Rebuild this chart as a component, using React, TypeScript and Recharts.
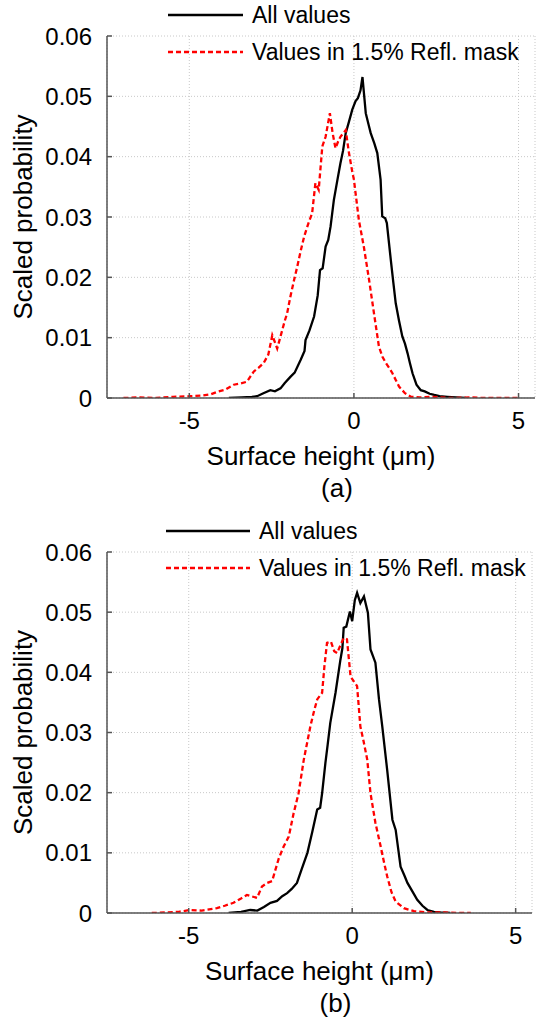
import { LineChart, Line, XAxis, YAxis, CartesianGrid, Label } from "recharts";

// shared axes
const xTicks = [-5, 0, 5];
const yTicks = [0, 0.01, 0.02, 0.03, 0.04, 0.05, 0.06];
const xLabel = "Surface height (\u03bcm)";
const yLabel = "Scaled probability";
const seriesNames = ["All values", "Values in 1.5% Refl. mask"];

// (a) all values
const aAllHeight = [-3.8, -3.4, -3.1, -2.94, -2.75, -2.54, -2.4, -2.23, -2.1, -1.93, -1.8, -1.62, -1.5, -1.47, -1.35, -1.21, -1.1, -1.03, -0.95, -0.86, -0.78, -0.71, -0.61, -0.5, -0.41, -0.33, -0.25, -0.15, -0.05, 0.05, 0.12, 0.2, 0.26, 0.36, 0.45, 0.51, 0.62, 0.71, 0.81, 0.86, 0.95, 1.0, 1.12, 1.2, 1.27, 1.37, 1.47, 1.55, 1.63, 1.7, 1.78, 1.9, 2.03, 2.15, 2.3, 2.44, 2.6, 2.84, 3.1, 3.4];
const aAllProb = [0, 0.0001, 0.0002, 0.0003, 0.0008, 0.0013, 0.0011, 0.0016, 0.0025, 0.0035, 0.0042, 0.0063, 0.0078, 0.0096, 0.0112, 0.0135, 0.017, 0.0212, 0.0215, 0.0251, 0.0262, 0.0284, 0.0328, 0.0362, 0.0389, 0.041, 0.0439, 0.0458, 0.0478, 0.0492, 0.0497, 0.051, 0.0532, 0.0472, 0.0452, 0.0439, 0.0422, 0.0406, 0.0362, 0.0301, 0.0298, 0.029, 0.0229, 0.019, 0.0157, 0.0128, 0.0102, 0.009, 0.0074, 0.0058, 0.0041, 0.0022, 0.0013, 0.0011, 0.0007, 0.0005, 0.0003, 0.0002, 0.0001, 0];

// (a) values in mask
const aMaskHeight = [-7.0, -6.5, -6.0, -5.5, -4.97, -4.6, -4.35, -4.16, -3.9, -3.65, -3.45, -3.25, -3.04, -2.9, -2.74, -2.6, -2.48, -2.33, -2.23, -2.1, -2.03, -1.93, -1.82, -1.72, -1.62, -1.51, -1.38, -1.27, -1.17, -1.07, -0.96, -0.86, -0.73, -0.65, -0.56, -0.48, -0.41, -0.25, -0.15, -0.05, 0.0, 0.15, 0.3, 0.46, 0.61, 0.76, 0.87, 0.97, 1.07, 1.17, 1.27, 1.37, 1.55, 1.73, 2.0, 2.3, 2.6, 3.0, 3.5, 4.0, 4.5, 5.0];
const aMaskProb = [0, 0.0001, 0, 0.0002, 0.0003, 0.0004, 0.0006, 0.001, 0.0014, 0.0022, 0.0024, 0.0027, 0.0044, 0.005, 0.0058, 0.0072, 0.0104, 0.0082, 0.0102, 0.0128, 0.014, 0.0168, 0.0195, 0.0218, 0.0243, 0.0268, 0.029, 0.0306, 0.0356, 0.0345, 0.0417, 0.0433, 0.0472, 0.044, 0.0414, 0.0425, 0.0433, 0.0444, 0.0406, 0.0375, 0.0362, 0.0295, 0.0251, 0.0196, 0.014, 0.0085, 0.0068, 0.0058, 0.005, 0.0041, 0.003, 0.0019, 0.0008, 0.0002, 0.0001, 0.0002, 0.0001, 0, 0.0001, 0, 0, 0];

// (b) all values
const bAllHeight = [-3.78, -3.4, -3.12, -2.9, -2.7, -2.5, -2.3, -2.14, -1.99, -1.85, -1.69, -1.55, -1.37, -1.22, -1.07, -0.98, -0.92, -0.82, -0.75, -0.67, -0.51, -0.36, -0.3, -0.26, -0.18, -0.07, 0.0, 0.08, 0.15, 0.25, 0.36, 0.48, 0.56, 0.65, 0.71, 0.82, 0.92, 1.07, 1.23, 1.33, 1.48, 1.6, 1.69, 1.85, 1.99, 2.15, 2.3, 2.5, 2.7, 3.0];
const bAllProb = [0, 0.0002, 0.0005, 0.0004, 0.001, 0.0017, 0.002, 0.0028, 0.0033, 0.004, 0.005, 0.0072, 0.01, 0.0135, 0.0172, 0.0175, 0.0199, 0.0249, 0.028, 0.0316, 0.0366, 0.0421, 0.044, 0.0474, 0.0476, 0.0501, 0.0485, 0.052, 0.0532, 0.0515, 0.0526, 0.0499, 0.0438, 0.0425, 0.0416, 0.0355, 0.031, 0.0238, 0.0155, 0.0138, 0.0077, 0.0062, 0.005, 0.0035, 0.0022, 0.0012, 0.0005, 0.0002, 0.0001, 0];

// (b) values in mask
const bMaskHeight = [-6.13, -5.7, -5.3, -4.96, -4.6, -4.14, -3.9, -3.63, -3.4, -3.22, -2.91, -2.76, -2.6, -2.45, -2.25, -2.1, -1.94, -1.79, -1.64, -1.48, -1.28, -1.17, -1.07, -0.92, -0.85, -0.77, -0.65, -0.55, -0.46, -0.36, -0.26, -0.16, -0.05, 0.05, 0.15, 0.25, 0.35, 0.46, 0.56, 0.71, 0.87, 0.97, 1.07, 1.2, 1.33, 1.58, 1.89, 2.3, 2.8, 3.2, 3.63];
const bMaskProb = [0, 0.0001, 0.0002, 0.0005, 0.0004, 0.0008, 0.0012, 0.0017, 0.0024, 0.003, 0.0025, 0.0044, 0.005, 0.0053, 0.009, 0.011, 0.0127, 0.0166, 0.0199, 0.0255, 0.031, 0.0335, 0.0355, 0.0366, 0.041, 0.0449, 0.0451, 0.0435, 0.0432, 0.0445, 0.0457, 0.0455, 0.0393, 0.0385, 0.0377, 0.031, 0.0285, 0.0255, 0.0199, 0.015, 0.0111, 0.0085, 0.0061, 0.0035, 0.0019, 0.0008, 0.0003, 0.0001, 0.0001, 0, 0];

const toPoints = (xs: number[], ys: number[]) => xs.map((x, i) => ({ x, y: ys[i] }));

const FONT = "'Liberation Sans', Arial, sans-serif";

function Panel({ allData, maskData, caption, chartHeight, top, right, plotHeight, legendLine, legendY }: any) {
  const axisHeight = chartHeight - top - plotHeight;
  const [l0, l1] = legendLine;
  return (
    <div style={{ position: "relative", width: 550, height: chartHeight }}>
      <LineChart width={550} height={chartHeight} margin={{ top, right, bottom: 0, left: 0 }}>
        <CartesianGrid stroke="#c8c8c8" strokeDasharray="1 2" />
        <XAxis
          type="number"
          dataKey="x"
          domain={[-7.5, 5.5]}
          ticks={xTicks}
          height={axisHeight}
          tickSize={-5}
          tickMargin={19}
          stroke="#555"
          strokeWidth={1.5}
          tick={{ fill: "#000", fontSize: 24, fontFamily: FONT }}
          allowDataOverflow
        >
          <Label
            content={(props: any) => {
              const vb = props.viewBox;
              const cx = vb.x + vb.width / 2;
              return (
                <g fontFamily={FONT} fill="#000">
                  <text x={cx} y={vb.y + 67} textAnchor="middle" fontSize={26}>{xLabel}</text>
                  <text x={cx + 16} y={vb.y + 99} textAnchor="middle" fontSize={26}>{caption}</text>
                </g>
              );
            }}
          />
        </XAxis>
        <YAxis
          type="number"
          domain={[0, 0.06]}
          ticks={yTicks}
          width={107}
          tickSize={-5}
          tickMargin={20}
          stroke="#555"
          strokeWidth={1.5}
          tickFormatter={(v: number) => (v === 0 ? "0" : v.toFixed(2))}
          tick={{ fill: "#000", fontSize: 24, fontFamily: FONT }}
          allowDataOverflow
        >
          <Label
            content={(props: any) => {
              const vb = props.viewBox;
              const cy = vb.y + vb.height / 2;
              return (
                <text x={25} y={cy} transform={`rotate(-90 25 ${cy})`} textAnchor="middle" dominantBaseline="middle" fontSize={26} fontFamily={FONT} fill="#000">
                  {yLabel}
                </text>
              );
            }}
          />
        </YAxis>
        <Line data={allData} dataKey="y" type="linear" stroke="#000" strokeWidth={2.3} dot={false} isAnimationActive={false} />
        <Line data={maskData} dataKey="y" type="linear" stroke="#ff0000" strokeWidth={2.3} strokeDasharray="5 3" dot={false} isAnimationActive={false} />
      </LineChart>
      <svg width={550} height={80} style={{ position: "absolute", left: 0, top: 0, pointerEvents: "none" }}>
        <g fontFamily={FONT} fontSize={23} fill="#000">
          <line x1={l0} x2={l1} y1={legendY[0]} y2={legendY[0]} stroke="#000" strokeWidth={2.3} />
          <text x={l1 + 9} y={legendY[0]} dominantBaseline="central">{seriesNames[0]}</text>
          <line x1={l0} x2={l1} y1={legendY[1]} y2={legendY[1]} stroke="#ff0000" strokeWidth={2.3} strokeDasharray="5 3" />
          <text x={l1 + 9} y={legendY[1]} dominantBaseline="central">{seriesNames[1]}</text>
        </g>
      </svg>
    </div>
  );
}

export default function App() {
  return (
    <div style={{ position: "absolute", left: 0, top: 0, width: 550, height: 1021, background: "#fff" }}>
      <Panel
        allData={toPoints(aAllHeight, aAllProb)}
        maskData={toPoints(aMaskHeight, aMaskProb)}
        caption="(a)"
        chartHeight={505}
        top={36}
        right={15}
        plotHeight={362}
        legendLine={[168, 243]}
        legendY={[15, 52]}
      />
      <Panel
        allData={toPoints(bAllHeight, bAllProb)}
        maskData={toPoints(bMaskHeight, bMaskProb)}
        caption="(b)"
        chartHeight={516}
        top={47}
        right={18}
        plotHeight={361}
        legendLine={[166, 250]}
        legendY={[26, 63]}
      />
    </div>
  );
}
